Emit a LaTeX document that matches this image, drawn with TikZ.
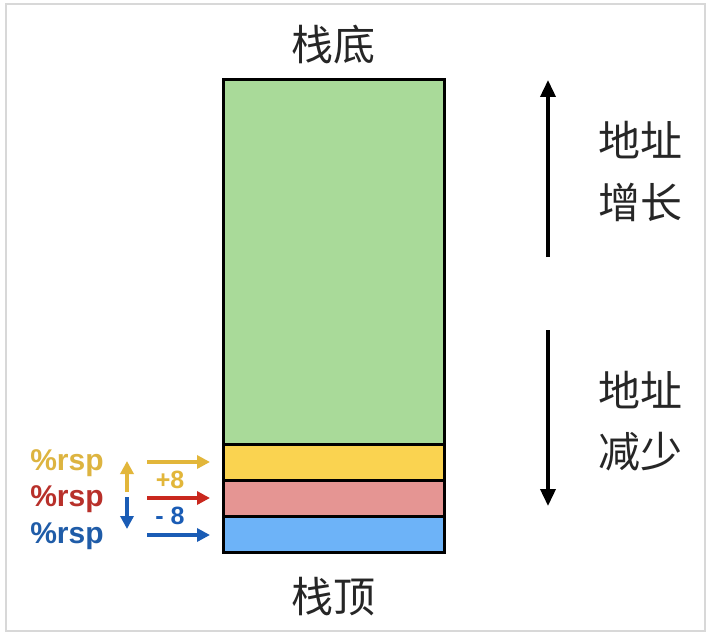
\documentclass[tikz,border=0pt]{standalone}
\usepackage{fontspec}
\setsansfont{Liberation Sans}
\newfontfamily\cjk{Noto Sans CJK SC}
\usetikzlibrary{arrows.meta}
\definecolor{cgreen}{HTML}{A9DA99}
\definecolor{cyellow}{HTML}{FAD350}
\definecolor{cpink}{HTML}{E59593}
\definecolor{cblue}{HTML}{6DB3F8}
\definecolor{tyellow}{HTML}{DDB440}
\definecolor{tred}{HTML}{B8302A}
\definecolor{tblue}{HTML}{1F5CA8}
\definecolor{ayellow}{HTML}{E2B63A}
\definecolor{ared}{HTML}{C9281E}
\definecolor{ablue}{HTML}{1A5CB5}
\definecolor{frame}{HTML}{D8D8D8}
\begin{document}
\begin{tikzpicture}[x=1pt,y=-1pt,
  cell/.style={draw=black,line width=2.8pt,inner sep=0pt,minimum width=221pt,anchor=north west},
  cjklabel/.style={font=\cjk\fontsize{42}{50}\selectfont,text=black!85,inner sep=0pt},
  rsplabel/.style={font=\sffamily\bfseries\fontsize{30}{34}\selectfont,inner sep=0pt},
  offlabel/.style={font=\sffamily\bfseries\fontsize{25}{28}\selectfont,inner sep=0pt},
  bigarrow/.style={line width=3.6pt,-{Triangle[length=17pt,width=15pt]}},
  smallarrow/.style={line width=3.4pt,-{Triangle[length=13pt,width=13pt]}}]
\useasboundingbox (0,0) rectangle (709,639);
\fill[white] (0,0) rectangle (709,639);
\draw[frame,line width=1.2pt] (6,4) rectangle (705,631);
% stack cells
\node[cell,fill=cgreen,minimum height=365pt] (green) at (222,78) {};
\node[cell,fill=cyellow,minimum height=36pt] (yellow) at (222,443) {};
\node[cell,fill=cpink,minimum height=36pt] (pink) at (222,479) {};
\node[cell,fill=cblue,minimum height=36pt] (blue) at (222,515) {};
% top/bottom labels
\node[cjklabel] (bottom) at (333,45) {栈底};
\node[cjklabel] (top) at (333,597) {栈顶};
% right arrows
\coordinate (upS) at (548,257);
\coordinate (upE) at (548,80);
\draw[bigarrow] (upS) -- (upE);
\coordinate (dnS) at (548,330);
\coordinate (dnE) at (548,506);
\draw[bigarrow] (dnS) -- (dnE);
\node[cjklabel] (inc1) at (640,140) {地址};
\node[cjklabel] (inc2) at (640,202) {增长};
\node[cjklabel] (dec1) at (640,390) {地址};
\node[cjklabel] (dec2) at (640,452) {减少};
% rsp labels
\node[rsplabel,text=tyellow] (r1) at (67,463) {\%rsp};
\node[rsplabel,text=tred] (r2) at (67,499) {\%rsp};
\node[rsplabel,text=tblue] (r3) at (67,536) {\%rsp};
% small vertical arrows
\coordinate (yu1) at (127,492);
\coordinate (yu2) at (127,461);
\draw[smallarrow,ayellow] (yu1) -- (yu2);
\coordinate (bd1) at (127,497);
\coordinate (bd2) at (127,529);
\draw[smallarrow,ablue] (bd1) -- (bd2);
% horizontal arrows
\coordinate (h1) at (147,462);
\coordinate (h2) at (147,498);
\coordinate (h3) at (147,535);
\draw[smallarrow,ayellow] (h1) -- ([xshift=-12pt]yellow.west |- h1);
\draw[smallarrow,ared] (h2) -- ([xshift=-12pt]pink.west |- h2);
\draw[smallarrow,ablue] (h3) -- ([xshift=-12pt]blue.west |- h3);
\node[offlabel,text=ayellow] (p8) at (170,480) {+8};
\node[offlabel,text=ablue] (m8) at (170,516) {- 8};
\end{tikzpicture}
\end{document}
